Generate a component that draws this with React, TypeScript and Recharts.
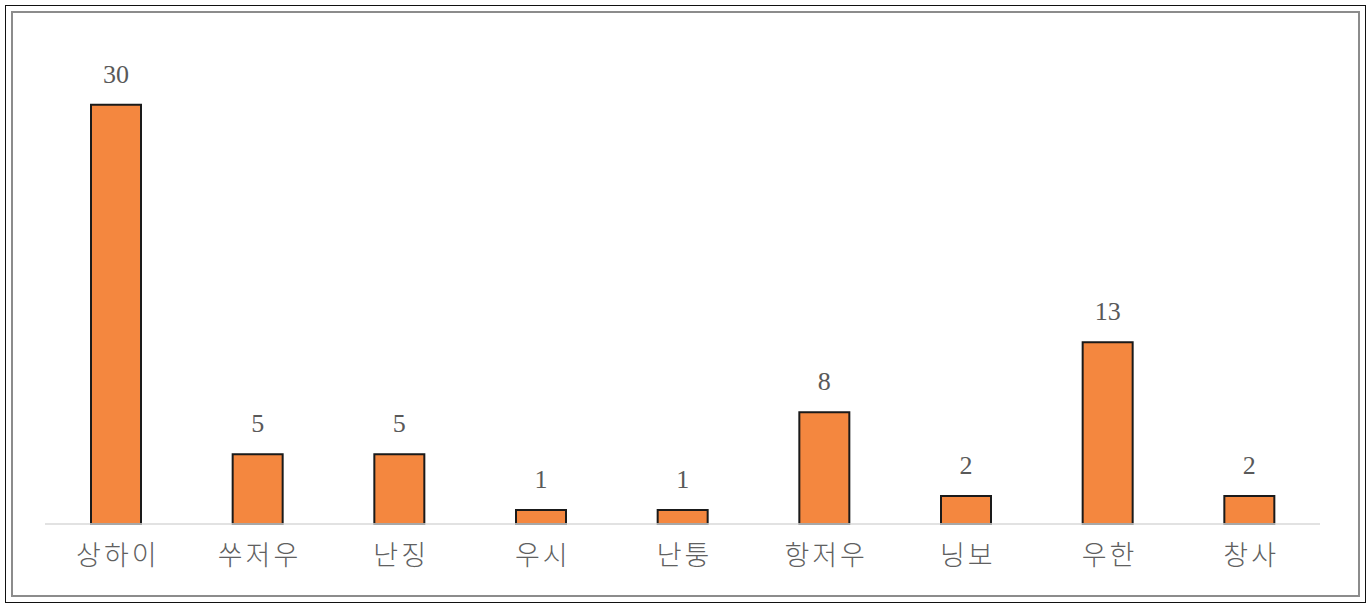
import { BarChart, Bar, XAxis, YAxis, LabelList } from "recharts";

const cities = ["상하이", "쑤저우", "난징", "우시", "난퉁", "항저우", "닝보", "우한", "창사"];
const counts = [30, 5, 5, 1, 1, 8, 2, 13, 2];

const data = cities.map((city, i) => ({ city, count: counts[i] }));

const CityTick = (props: any) => {
  const { x, y, payload } = props;
  return (
    <text
      x={x + 2}
      y={y + 33}
      textAnchor="middle"
      fill="#606060"
      fontSize={27}
      fontWeight={300}
      letterSpacing={3}
      fontFamily="'Noto Sans CJK KR', sans-serif"
    >
      {payload.value}
    </text>
  );
};

export default function App() {
  return (
    <div style={{ position: "absolute", left: 0, top: 0, width: 1372, height: 606, background: "#fff" }}>
      <div
        style={{
          position: "absolute",
          left: 5,
          top: 5,
          width: 1361,
          height: 598,
          border: "1px solid #111",
          boxSizing: "border-box",
        }}
      />
      <div
        style={{
          position: "absolute",
          left: 11,
          top: 11,
          width: 1349,
          height: 586,
          border: "2px solid #8c8c8c",
          boxSizing: "border-box",
        }}
      />
      <div style={{ position: "absolute", left: 0, top: 0 }}>
        <BarChart
          width={1372}
          height={606}
          data={data}
          margin={{ top: 35, right: 52, bottom: 42, left: 45 }}
        >
          <XAxis
            dataKey="city"
            height={40}
            axisLine={{ stroke: "#d9d9d9", strokeWidth: 1.5 }}
            tickLine={false}
            tick={<CityTick />}
            interval={0}
          />
          <YAxis hide domain={[0, 35]} />
          <Bar
            dataKey="count"
            fill="#F4873F"
            stroke="#1a1a1a"
            strokeWidth={2}
            barSize={50}
            isAnimationActive={false}
          >
            <LabelList
              dataKey="count"
              position="top"
              offset={22}
              fill="#595959"
              fontSize={26}
              fontFamily="'Liberation Serif', serif"
            />
          </Bar>
        </BarChart>
      </div>
    </div>
  );
}
